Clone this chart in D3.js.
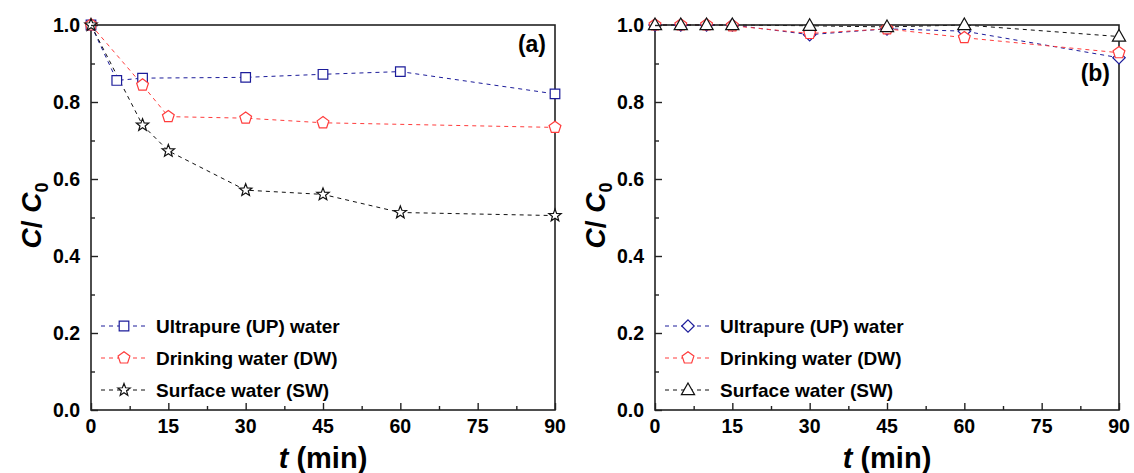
<!DOCTYPE html>
<html>
<head>
<meta charset="utf-8">
<script src="https://cdn.jsdelivr.net/npm/d3@7"></script>
<style>
  body { margin: 0; background: #fff; }
  text { font-family: "Liberation Sans", Arial, sans-serif; font-weight: bold; fill: #000; }
</style>
</head>
<body>
<svg id="chart" width="1134" height="473"></svg>
<script>
// x / y ticks
const xTicks = [0, 15, 30, 45, 60, 75, 90];
const yTicks = [0, 0.2, 0.4, 0.6, 0.8, 1.0];
const seriesNames = ["Ultrapure (UP) water", "Drinking water (DW)", "Surface water (SW)"];

// panel (a)
const aUpT = [0, 5, 10, 30, 45, 60, 90];
const aUpC = [1.0, 0.856, 0.862, 0.864, 0.872, 0.879, 0.821];
const aDwT = [0, 10, 15, 30, 45, 90];
const aDwC = [1.0, 0.844, 0.762, 0.758, 0.746, 0.734];
const aSwT = [0, 10, 15, 30, 45, 60, 90];
const aSwC = [1.0, 0.740, 0.673, 0.571, 0.560, 0.513, 0.505];

// panel (b)
const bT = [0, 5, 10, 15, 30, 45, 60, 90];
const bUpC = [1.0, 1.0, 1.0, 1.0, 0.975, 0.990, 0.984, 0.915];
const bDwC = [1.0, 1.0, 1.0, 0.998, 0.978, 0.990, 0.967, 0.928];
const bSwC = [1.0, 1.0, 1.0, 1.0, 0.998, 0.995, 1.0, 0.970];

const colors = ["#1c1c9a", "#ff3c3c", "#111111"];

// custom marker shapes (r = radius)
function polygon(n, r, rot) {
  const pts = [];
  for (let i = 0; i < n; i++) {
    const a = rot + i * 2 * Math.PI / n;
    pts.push([r * Math.cos(a), r * Math.sin(a)]);
  }
  return "M" + pts.map(p => p.join(",")).join("L") + "Z";
}
function star(r) {
  const pts = [];
  for (let i = 0; i < 10; i++) {
    const a = -Math.PI / 2 + i * Math.PI / 5;
    const rr = i % 2 ? r * 0.42 : r;
    pts.push([rr * Math.cos(a), rr * Math.sin(a)]);
  }
  return "M" + pts.map(p => p.join(",")).join("L") + "Z";
}
const shapes = {
  square: () => "M-4.8,-4.8H4.8V4.8H-4.8Z",
  pentagon: () => polygon(5, 6.2, -Math.PI / 2),
  star: () => star(6.5),
  diamond: () => polygon(4, 6.2, -Math.PI / 2),
  triangle: () => "M0,-7L6.6,4.6H-6.6Z"
};

const svg = d3.select("#chart");

function drawPanel(cfg) {
  const x = d3.scaleLinear().domain([0, 90]).range([cfg.left, cfg.left + 464]);
  const y = d3.scaleLinear().domain([0, 1.0]).range([410, 25]);
  const g = svg.append("g");

  // series lines
  cfg.series.forEach((s, i) => {
    const pts = s.t.map((t, k) => [t, s.c[k]]);
    g.append("path")
      .datum(pts)
      .attr("fill", "none")
      .attr("stroke", colors[i])
      .attr("stroke-width", 1)
      .attr("stroke-dasharray", "4,4")
      .attr("d", d3.line().x(d => x(d[0])).y(d => y(d[1])));
  });

  // frame
  g.append("rect")
    .attr("x", x(0)).attr("y", y(1))
    .attr("width", x(90) - x(0)).attr("height", y(0) - y(1))
    .attr("fill", "none").attr("stroke", "#222").attr("stroke-width", 1.6);

  // markers
  cfg.series.forEach((s, i) => {
    const pts = s.t.map((t, k) => [t, s.c[k]]);
    g.selectAll(null)
      .data(pts)
      .join("path")
      .attr("transform", d => `translate(${x(d[0])},${y(d[1])})`)
      .attr("d", shapes[s.shape]())
      .attr("fill", "#fff")
      .attr("stroke", colors[i])
      .attr("stroke-width", 1.2);
  });

  // axes with inward ticks
  const xAxis = d3.axisBottom(x).tickValues(d3.range(0, 91, 7.5)).tickSize(-7).tickFormat("");
  const xAx = g.append("g").attr("transform", `translate(0,${y(0)})`).call(xAxis);
  xAx.select(".domain").remove();
  xAx.selectAll(".tick line").attr("stroke", "#222").attr("stroke-width", 1.4)
    .attr("y2", d => (d % 15 === 0 ? -7 : -4));
  g.selectAll(null).data(xTicks).join("text")
    .attr("x", d => x(d)).attr("y", 433)
    .attr("text-anchor", "middle").attr("font-size", 19.5)
    .text(d => d);

  const yAxis = d3.axisLeft(y).tickValues(d3.range(0, 1.01, 0.1)).tickSize(-7).tickFormat("");
  const yAx = g.append("g").attr("transform", `translate(${x(0)},0)`).call(yAxis);
  yAx.select(".domain").remove();
  yAx.selectAll(".tick line").attr("stroke", "#222").attr("stroke-width", 1.4)
    .attr("x2", (d, k) => (k % 2 === 0 ? 7 : 4));
  g.selectAll(null).data(yTicks).join("text")
    .attr("x", x(0) - 11).attr("y", d => y(d) + 7)
    .attr("text-anchor", "end").attr("font-size", 19.5)
    .text(d => d.toFixed(1));

  // axis titles
  const xt = g.append("text")
    .attr("x", (x(0) + x(90)) / 2).attr("y", 468)
    .attr("text-anchor", "middle").attr("font-size", 29);
  xt.append("tspan").attr("font-style", "italic").text("t");
  xt.append("tspan").text(" (min)");

  const yt = g.append("text")
    .attr("transform", `translate(${cfg.left - 50},${(y(0) + y(1)) / 2 - 2}) rotate(-90)`)
    .attr("text-anchor", "middle").attr("font-size", 28);
  yt.append("tspan").attr("font-style", "italic").text("C");
  yt.append("tspan").text("/ ");
  yt.append("tspan").attr("font-style", "italic").text("C");
  yt.append("tspan").attr("font-size", 18).attr("dy", 7).text("0");

  // panel label
  g.append("text")
    .attr("x", x(90) - 9).attr("y", cfg.labelY)
    .attr("text-anchor", "end").attr("font-size", 23)
    .text(cfg.label);

  // legend
  cfg.series.forEach((s, i) => {
    const ly = 326 + i * 32;
    const lx = x(0) + 10;
    g.append("line")
      .attr("x1", lx).attr("x2", lx + 46).attr("y1", ly).attr("y2", ly)
      .attr("stroke", colors[i]).attr("stroke-width", 1).attr("stroke-dasharray", "4,4");
    g.append("path")
      .attr("transform", `translate(${lx + 23},${ly})`)
      .attr("d", shapes[s.shape]())
      .attr("fill", "#fff").attr("stroke", colors[i]).attr("stroke-width", 1.2);
    g.append("text")
      .attr("x", lx + 55).attr("y", ly + 7)
      .attr("font-size", 19)
      .text(seriesNames[i]);
  });
}

drawPanel({
  left: 91, label: "(a)", labelY: 52,
  series: [
    { t: aUpT, c: aUpC, shape: "square" },
    { t: aDwT, c: aDwC, shape: "pentagon" },
    { t: aSwT, c: aSwC, shape: "star" }
  ]
});

drawPanel({
  left: 655, label: "(b)", labelY: 81,
  series: [
    { t: bT, c: bUpC, shape: "diamond" },
    { t: bT, c: bDwC, shape: "pentagon" },
    { t: bT, c: bSwC, shape: "triangle" }
  ]
});
</script>
</body>
</html>
